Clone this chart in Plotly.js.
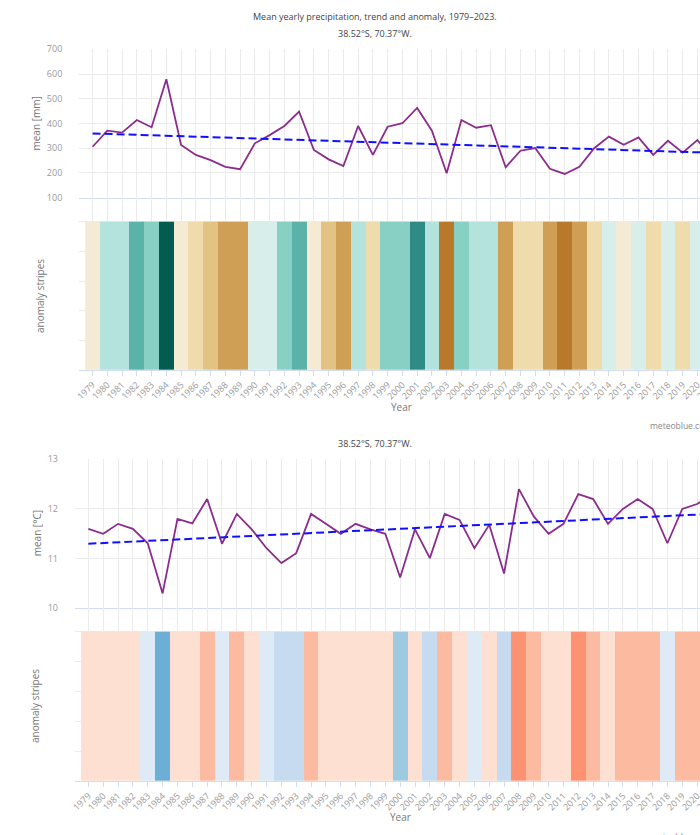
<!DOCTYPE html>
<html>
<head>
<meta charset="utf-8">
<script src="https://cdn.plot.ly/plotly-3.0.1.min.js"></script>
<style>
html,body{margin:0;padding:0;overflow:hidden;background:#fff;}
#chart{width:830px;height:835px;}
</style>
</head>
<body>
<div id="chart"></div>
<script>
// ---------- data ----------
const years = [1979,1980,1981,1982,1983,1984,1985,1986,1987,1988,1989,1990,1991,1992,1993,1994,1995,1996,1997,1998,1999,2000,2001,2002,2003,2004,2005,2006,2007,2008,2009,2010,2011,2012,2013,2014,2015,2016,2017,2018,2019,2020,2021,2022,2023];

const precipMean = [306,371,363,414,385,579,313,273,252,225,215,320,353,390,448,293,255,228,390,273,387,401,463,371,199,414,383,393,223,290,301,217,196,225,300,347,314,344,273,330,282,333,255,290,330];
const precipTrendYears = [1979, 2023];
const precipTrend = [360, 278];
// anomaly class per year (-4 = driest ... +6 = wettest)
const precipAnomalyClass = [0,2,2,4,3,6,0,-1,-2,-3,-3,1,1,3,4,0,-2,-3,2,-1,3,3,5,2,-4,3,2,2,-3,-1,-1,-3,-4,-3,-1,1,0,1,-1,1,-1,1,-2,-1,1];
const precipPalette = ['#b8792b','#cf9f55','#e2c383','#f0dbad','#f5ebd5','#d8eeeb','#b4e2dc','#88d0c4','#5ab2a8','#2e8c84','#035c50'];
const precipClassMin = -4;

const tempMean = [11.60,11.50,11.70,11.60,11.31,10.30,11.80,11.71,12.20,11.30,11.90,11.59,11.21,10.91,11.11,11.90,11.70,11.50,11.70,11.59,11.50,10.62,11.59,11.01,11.90,11.78,11.21,11.68,10.70,12.40,11.85,11.50,11.70,12.30,12.20,11.70,12.00,12.20,12.00,11.31,12.00,12.10,12.30,12.00,12.40];
const tempTrendYears = [1979, 2023];
const tempTrend = [11.30, 11.93];
// anomaly class per year (-4 = coldest ... +3 = warmest)
const tempAnomalyClass = [1,1,1,1,-1,-4,1,1,2,-1,2,1,-1,-2,-2,2,1,1,1,1,1,-3,1,-2,2,1,-1,1,-2,3,2,1,1,3,2,1,2,2,2,-1,2,2,3,2,3];
const tempPalette = ['#6baed6','#9ecae1','#c6dbef','#deebf7','#f7f7f7','#fee0d2','#fcbba1','#fc9272'];
const tempClassMin = -4;

const titleText = 'Mean yearly precipitation, trend and anomaly, 1979–2023.';
const subtitleText = '38.52°S, 70.37°W.';
const precipAxisTitle = 'mean [mm]';
const tempAxisTitle = 'mean [°C]';
const stripesAxisTitle = 'anomaly stripes';
const xTitle = 'Year';
const creditText = 'meteoblue.com';

// ---------- layout helpers ----------
const W = 830, H = 835;
const px = v => v / W;
const py = v => 1 - v / H;

function discreteScale(palette){
  const n = palette.length, cs = [];
  palette.forEach((c,i)=>{ cs.push([i/n, c]); cs.push([(i+1)/n, c]); });
  return cs;
}

const lineColor = '#8b2c8e';
const trendColor = '#1010ff';
const gridColor = '#ebebeb';
const axisLineColor = '#d3ddf0';
const tickFont = {family:'"Open Sans", sans-serif', size:9, color:'#999'};
const xRange = [1978.1, 2023.9];

const traces = [
  {type:'scatter', mode:'lines', x:years, y:precipMean, xaxis:'x', yaxis:'y',
   line:{color:lineColor, width:1.8}, hoverinfo:'skip'},
  {type:'scatter', mode:'lines', x:precipTrendYears, y:precipTrend, xaxis:'x', yaxis:'y',
   line:{color:trendColor, width:2, dash:'8px,4px'}, hoverinfo:'skip'},
  {type:'heatmap', x:years, y:[0,1], z:[precipAnomalyClass], xaxis:'x2', yaxis:'y2',
   zmin:precipClassMin-0.5, zmax:precipClassMin+precipPalette.length-0.5,
   colorscale:discreteScale(precipPalette), showscale:false, hoverinfo:'skip'},
  {type:'scatter', mode:'lines', x:years, y:tempMean, xaxis:'x3', yaxis:'y3',
   line:{color:lineColor, width:1.8}, hoverinfo:'skip'},
  {type:'scatter', mode:'lines', x:tempTrendYears, y:tempTrend, xaxis:'x3', yaxis:'y3',
   line:{color:trendColor, width:2, dash:'8px,4px'}, hoverinfo:'skip'},
  {type:'heatmap', x:years, y:[0,1], z:[tempAnomalyClass], xaxis:'x4', yaxis:'y4',
   zmin:tempClassMin-0.5, zmax:tempClassMin+tempPalette.length-0.5,
   colorscale:discreteScale(tempPalette), showscale:false, hoverinfo:'skip'}
];

function lineX(domain, anchor){
  return {domain:domain, anchor:anchor, range:xRange, tick0:1979, dtick:1,
    showgrid:true, gridcolor:gridColor, zeroline:false, showticklabels:false,
    showline:true, linecolor:axisLineColor, linewidth:1, ticks:''};
}
function stripeX(domain, anchor){
  return {domain:domain, anchor:anchor, range:xRange, tick0:1979, dtick:1,
    showgrid:true, gridcolor:gridColor, zeroline:false, showticklabels:true,
    tickangle:-45, tickfont:tickFont, showline:true, linecolor:axisLineColor, linewidth:1,
    ticks:'outside', ticklen:5, tickcolor:axisLineColor, tickwidth:1};
}
function lineY(domain, anchor, range, dtick){
  return {domain:domain, anchor:anchor, range:range, dtick:dtick, showgrid:true,
    gridcolor:gridColor, zeroline:false, showline:false, tickfont:tickFont,
    ticks:'', ticklabelstandoff:16};
}
function stripeY(domain, anchor, range){
  return {domain:domain, anchor:anchor, range:range, dtick:0.2, showgrid:true,
    gridcolor:gridColor, zeroline:false, showline:false, showticklabels:false, ticks:''};
}

const topX = [px(79.3), px(755)];
const botX = [px(75), px(755)];

const layout = {
  width:W, height:H, margin:{l:0,r:0,t:0,b:0},
  paper_bgcolor:'#fff', plot_bgcolor:'#fff', showlegend:false,
  font:{family:'"Open Sans", sans-serif', color:'#444'},
  xaxis: lineX(topX, 'y'),
  xaxis2: stripeX(topX, 'y2'),
  xaxis3: lineX(botX, 'y3'),
  xaxis4: stripeX(botX, 'y4'),
  yaxis: lineY([py(197.7), py(49.3)], 'x', [100,700], 100),
  yaxis2: stripeY([py(370), py(197.7)], 'x2', [0, (370-197.7)/(370-221.7)]),
  yaxis3: lineY([py(608.3), py(459.3)], 'x3', [10,13], 1),
  yaxis4: stripeY([py(781), py(608.3)], 'x4', [0, (781-608.3)/(781-631.7)]),
  annotations:[
    {text:titleText, xref:'paper', yref:'paper', x:px(375), y:py(17), showarrow:false,
     xanchor:'center', yanchor:'middle', font:{size:9, color:'#444'}},
    {text:subtitleText, xref:'paper', yref:'paper', x:px(375), y:py(33), showarrow:false,
     xanchor:'center', yanchor:'middle', font:{size:9, color:'#444'}},
    {text:subtitleText, xref:'paper', yref:'paper', x:px(375), y:py(443), showarrow:false,
     xanchor:'center', yanchor:'middle', font:{size:9, color:'#444'}},
    {text:precipAxisTitle, xref:'paper', yref:'paper', x:px(35), y:py(123.5), showarrow:false,
     textangle:-90, xanchor:'center', yanchor:'middle', font:{size:10, color:'#777'}},
    {text:stripesAxisTitle, xref:'paper', yref:'paper', x:px(40), y:py(296), showarrow:false,
     textangle:-90, xanchor:'center', yanchor:'middle', font:{size:10, color:'#777'}},
    {text:tempAxisTitle, xref:'paper', yref:'paper', x:px(36.5), y:py(533.8), showarrow:false,
     textangle:-90, xanchor:'center', yanchor:'middle', font:{size:10, color:'#777'}},
    {text:stripesAxisTitle, xref:'paper', yref:'paper', x:px(35), y:py(706), showarrow:false,
     textangle:-90, xanchor:'center', yanchor:'middle', font:{size:10, color:'#777'}},
    {text:xTitle, xref:'paper', yref:'paper', x:px(401), y:py(406.5), showarrow:false,
     xanchor:'center', yanchor:'middle', font:{size:10, color:'#777'}},
    {text:xTitle, xref:'paper', yref:'paper', x:px(400), y:py(816.7), showarrow:false,
     xanchor:'center', yanchor:'middle', font:{size:10, color:'#777'}},
    {text:creditText, xref:'paper', yref:'paper', x:px(648), y:py(425), showarrow:false,
     xanchor:'left', yanchor:'middle', font:{size:8.5, color:'#888'}},
    {text:creditText, xref:'paper', yref:'paper', x:px(648), y:py(836), showarrow:false,
     xanchor:'left', yanchor:'middle', font:{size:8.5, color:'#888'}}
  ]
};

Plotly.newPlot('chart', traces, layout, {staticPlot:true, displayModeBar:false});
</script>
</body>
</html>
